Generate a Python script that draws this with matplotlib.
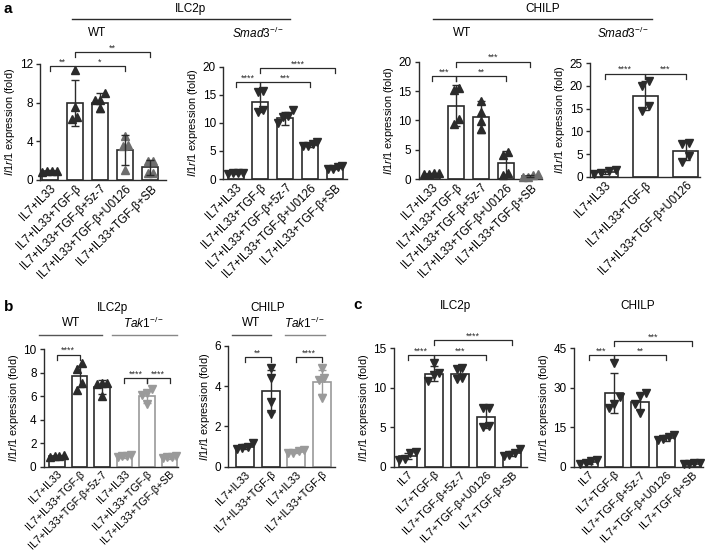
import matplotlib
matplotlib.use("Agg")
import matplotlib.pyplot as plt
from matplotlib.lines import Line2D
import numpy as np

plt.rcParams['font.family'] = ['Liberation Sans', 'DejaVu Sans']
plt.rcParams['mathtext.fontset'] = 'custom'
plt.rcParams['mathtext.rm'] = 'Liberation Sans'
plt.rcParams['mathtext.it'] = 'Liberation Sans:italic'

W, H = 705, 558

# ---- data ----
a_labels = ["IL7+IL33", "IL7+IL33+TGF-β", "IL7+IL33+TGF-β+5z-7",
            "IL7+IL33+TGF-β+U0126", "IL7+IL33+TGF-β+SB"]
a1_mean = [0.9, 7.95, 8.0, 3.1, 1.3]
a1_sd = [0.1, 2.4, 1.0, 1.55, 0.75]
a1_pts = [[0.85, 0.9, 0.95, 0.9], [11.4, 7.5, 6.3, 6.5], [9.0, 8.3, 8.3, 7.4],
          [4.6, 3.6, 3.5, 1.0], [2.0, 2.0, 0.7, 0.7]]

a2_mean = [1.0, 13.8, 10.8, 6.1, 2.0]
a2_sd = [0.15, 1.9, 1.1, 0.4, 0.3]
a2_pts = [[1.1, 1.0, 0.9, 1.0], [15.6, 15.5, 12.3, 12.0], [12.2, 11.2, 11.0, 9.9],
          [6.6, 6.3, 5.9, 5.8], [2.3, 2.1, 1.8, 1.8]]

a3_mean = [0.9, 12.5, 10.6, 2.7, 0.5]
a3_sd = [0.15, 3.5, 2.7, 2.1, 0.2]
a3_pts = [[1.0, 0.9, 0.8, 1.0], [15.6, 15.2, 10.2, 9.4], [13.3, 11.5, 9.9, 8.5],
          [4.6, 4.1, 1.0, 0.6], [0.8, 0.6, 0.4, 0.3]]

a4_labels = ["IL7+IL33", "IL7+IL33+TGF-β", "IL7+IL33+TGF-β+U0126"]
a4_mean = [1.0, 17.8, 5.6]
a4_sd = [0.3, 3.2, 2.0]
a4_pts = [[1.4, 1.2, 0.8, 0.7], [21.2, 19.9, 15.6, 14.5], [7.4, 7.2, 4.5, 3.3]]

b1_labels = ["IL7+IL33", "IL7+IL33+TGF-β", "IL7+IL33+TGF-β+5z-7",
             "IL7+IL33", "IL7+IL33+TGF-β", "IL7+IL33+TGF-β+SB"]
b1_mean = [0.9, 7.7, 6.8, 0.9, 6.0, 0.8]
b1_sd = [0.08, 0.9, 0.6, 0.15, 0.55, 0.12]
b1_pts = [[0.9, 0.85, 0.9, 0.95], [8.8, 8.3, 7.1, 6.5], [7.1, 7.1, 7.0, 6.0],
          [1.0, 0.9, 0.8, 0.9], [6.6, 6.3, 6.1, 5.3], [0.9, 0.8, 0.7, 0.8]]

b2_labels = ["IL7+IL33", "IL7+IL33+TGF-β", "IL7+IL33", "IL7+IL33+TGF-β"]
b2_mean = [1.0, 3.75, 0.75, 4.2]
b2_sd = [0.12, 1.05, 0.08, 0.6]
b2_pts = [[1.2, 1.0, 0.9, 0.95], [4.9, 4.4, 3.2, 2.6], [0.8, 0.85, 0.7, 0.7],
          [4.9, 4.4, 4.3, 3.4]]

c_labels = ["IL7", "IL7+TGF-β", "IL7+TGF-β+5z-7", "IL7+TGF-β+U0126", "IL7+TGF-β+SB"]
c1_mean = [1.35, 11.8, 11.8, 6.25, 1.7]
c1_sd = [0.35, 0.95, 0.6, 1.4, 0.3]
c1_pts = [[1.8, 1.7, 1.0, 0.9], [13.1, 11.9, 11.6, 10.8], [12.5, 12.4, 11.3, 11.1],
          [7.5, 7.4, 5.1, 5.0], [2.2, 1.7, 1.5, 1.4]]

c2_mean = [1.8, 28.0, 24.7, 10.9, 1.2]
c2_sd = [0.8, 7.6, 3.3, 1.0, 0.3]
c2_pts = [[2.6, 2.3, 1.3, 1.0], [39.3, 26.6, 23.8, 22.2], [27.9, 26.8, 24.0, 20.3],
          [12.2, 11.3, 10.5, 10.0], [1.5, 1.3, 1.1, 1.0]]

# significance: (bar i, bar j, height, stars)
a1_sig = [(0, 1, 11.8, "**"), (1, 3, 11.8, "*"), (1, 4, 13.2, "**")]
a2_sig = [(0, 1, 17.2, "****"), (1, 3, 17.2, "***"), (1, 4, 19.8, "****")]
a3_sig = [(0, 1, 17.6, "***"), (1, 3, 17.6, "**"), (1, 4, 20.0, "***")]
a4_sig = [(0, 1, 22.7, "****"), (1, 2, 22.7, "***")]
b1_sig = [(0, 1, 9.55, "****"), (3, 4, 7.55, "****"), (4, 5, 7.55, "****")]
b2_sig = [(0, 1, 5.45, "**"), (2, 3, 5.45, "****")]
c1_sig = [(0, 1, 14.1, "****"), (1, 3, 14.1, "***"), (1, 4, 16.0, "****")]
c2_sig = [(0, 1, 42.5, "***"), (1, 3, 42.5, "**"), (1, 4, 47.8, "***")]

DARK = '#2b2b2b'
GREY = '#6e6e6e'
LIGHT = '#9a9a9a'

fig = plt.figure(figsize=(W / 100, H / 100), dpi=100)


def swarm(vals, ymax, step=0.2):
    vals = np.asarray(vals)
    order = np.argsort(vals)
    xs = np.zeros(len(vals))
    groups, cur = [], [order[0]]
    for i in order[1:]:
        if vals[i] - vals[cur[-1]] < 0.07 * ymax:
            cur.append(i)
        else:
            groups.append(cur)
            cur = [i]
    groups.append(cur)
    for g in groups:
        n = len(g)
        xs[g] = (np.arange(n) - (n - 1) / 2) * step
    return xs


def panel(spine, c0, sp, end, ytop, ybot, ymax, yticks, labels, mean, sd, pts,
          sig, markers, mcolors, ecolors, barw, lab_fs=8.3):
    ax = fig.add_axes([spine / W, 1 - ybot / H, (end - spine) / W, (ybot - ytop) / H])
    ax.set_xlim((spine - c0) / sp, (end - c0) / sp)
    ax.set_ylim(0, ymax)
    x = np.arange(len(mean))
    w = barw / sp
    for i in x:
        ax.bar(i, mean[i], width=w, color='white', edgecolor=ecolors[i],
               linewidth=1.2, zorder=2)
        xs = swarm(pts[i], ymax, step=0.3 * barw / sp) + i
        ax.plot(xs, pts[i], linestyle='none', marker=markers[i], ms=5.8,
                color=mcolors[i], zorder=3, clip_on=False)
        ax.errorbar(i, mean[i], yerr=sd[i], fmt='none', ecolor=ecolors[i],
                    elinewidth=1.0, capsize=3, capthick=1.0, zorder=4)
    ppu = (ybot - ytop) / ymax
    for (i, j, y, s) in sig:
        t = 5 / ppu
        ax.plot([i, i, j, j], [y - t, y, y, y - t], color=DARK, lw=0.9,
                clip_on=False, zorder=5)
        ax.text((i + j) / 2, y + 4 / ppu, s, ha='center', va='center',
                fontsize=6.5, color=DARK)
    for side in ['top', 'right']:
        ax.spines[side].set_visible(False)
    for side in ['left', 'bottom']:
        ax.spines[side].set_color(DARK)
        ax.spines[side].set_linewidth(1.0)
    ax.set_yticks(yticks)
    ax.tick_params(axis='y', length=3, width=1.0, color=DARK, labelsize=8.5, pad=2)
    ax.tick_params(axis='x', length=0, pad=2)
    ax.set_xticks(x)
    ax.set_xticklabels(labels, rotation=45, ha='right', rotation_mode='anchor',
                       fontsize=lab_fs)
    ax.set_ylabel(r"$\mathit{Il1rl1}$ expression (fold)", fontsize=7.8, labelpad=2)
    return ax


K = DARK
# panel a
panel(40, 49.5, 25.2, 166, 64, 180, 12, [0, 4, 8, 12], a_labels, a1_mean, a1_sd,
      a1_pts, a1_sig, ['^'] * 5, [K, K, K, GREY, GREY], [K] * 5, 16)
panel(223, 235.5, 24.9, 347, 66.7, 179, 20, [0, 5, 10, 15, 20], a_labels, a2_mean,
      a2_sd, a2_pts, a2_sig, ['v'] * 5, [K] * 5, [K] * 5, 16)
panel(418.5, 431.5, 24.7, 542, 61.7, 179, 20, [0, 5, 10, 15, 20], a_labels, a3_mean,
      a3_sd, a3_pts, a3_sig, ['^'] * 5, [K, K, K, K, GREY], [K] * 5, 16)
panel(590, 605, 40.3, 700, 63.3, 176.7, 25, [0, 5, 10, 15, 20, 25], a4_labels,
      a4_mean, a4_sd, a4_pts, a4_sig, ['v'] * 3, [K] * 3, [K] * 3, 25)
# panel b
panel(43.5, 57, 22.5, 178, 349.3, 466.5, 10, [0, 2, 4, 6, 8, 10], b1_labels,
      b1_mean, b1_sd, b1_pts, b1_sig, ['^'] * 3 + ['v'] * 3, [K] * 3 + [LIGHT] * 3,
      [K] * 3 + [LIGHT] * 3, 15.5, lab_fs=7.7)
panel(228, 245, 25.5, 335, 346, 466.7, 6, [0, 2, 4, 6], b2_labels, b2_mean, b2_sd,
      b2_pts, b2_sig, ['v'] * 4, [K, K, LIGHT, LIGHT], [K, K, LIGHT, LIGHT], 18,
      lab_fs=7.9)
# panel c
panel(393.5, 407.5, 26.1, 527, 348.3, 466.7, 15, [0, 5, 10, 15], c_labels, c1_mean,
      c1_sd, c1_pts, c1_sig, ['v'] * 5, [K] * 5, [K] * 5, 18, lab_fs=8.1)
panel(573.5, 588.5, 25.8, 703, 348.3, 466.7, 45, [0, 15, 30, 45], c_labels, c2_mean,
      c2_sd, c2_pts, c2_sig, ['v'] * 5, [K] * 5, [K] * 5, 18, lab_fs=8.1)


def ftext(x, y, s, **kw):
    fig.text(x / W, 1 - y / H, s, ha='center', va='center', **kw)


def fline(x0, x1, y, color=DARK):
    fig.add_artist(Line2D([x0 / W, x1 / W], [1 - y / H, 1 - y / H], color=color,
                          lw=1.0, transform=fig.transFigure))


smad = r"$\mathit{Smad3}^{-/-}$"
tak = r"$\mathit{Tak1}^{-/-}$"
fig.text(4 / W, 1 - 9 / H, "a", fontsize=11, fontweight='bold', va='center')
fig.text(4 / W, 1 - 307 / H, "b", fontsize=11, fontweight='bold', va='center')
fig.text(353 / W, 1 - 305 / H, "c", fontsize=11, fontweight='bold', va='center')

ftext(190, 9, "ILC2p", fontsize=8.5)
ftext(543, 9, "CHILP", fontsize=8.5)
fline(72, 290, 19)
fline(433, 652, 19)
ftext(97, 33, "WT", fontsize=8.5)
ftext(258, 33, smad, fontsize=8.5)
ftext(462, 33, "WT", fontsize=8.5)
ftext(623, 33, smad, fontsize=8.5)

ftext(112, 308, "ILC2p", fontsize=8.5)
ftext(268, 308, "CHILP", fontsize=8.5)
ftext(71, 323, "WT", fontsize=8.5)
ftext(144, 323, tak, fontsize=8.5)
ftext(251, 323, "WT", fontsize=8.5)
ftext(305, 323, tak, fontsize=8.5)
fline(39, 102, 335, '#555555')
fline(112, 177, 335, '#888888')
fline(232, 271, 335, '#555555')
fline(285, 325, 335, '#888888')

ftext(455, 306, "ILC2p", fontsize=8.5)
ftext(638, 306, "CHILP", fontsize=8.5)

fig.savefig("out.png", dpi=100)
